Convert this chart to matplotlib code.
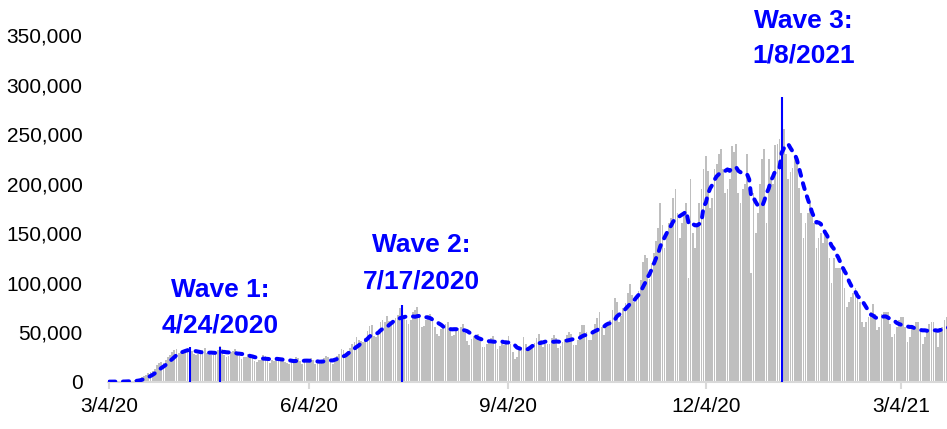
import matplotlib
matplotlib.use("Agg")
import matplotlib.pyplot as plt
import matplotlib.dates as mdates
import numpy as np
import pandas as pd

# Daily new cases (thousands), starting 3/4/2020, one row per week (Wed..Tue)
cases_k = [
    0.03, 0.05, 0.08, 0.1, 0.1, 0.2, 0.3,
    0.4, 0.5, 0.7, 0.9, 1.0, 1.4, 1.9,
    2.9, 4.5, 5.7, 7.0, 8.5, 10.0, 10.5,
    13.0, 17.0, 18.5, 19.5, 18.5, 21.5, 25.0,
    27.0, 29.5, 32.5, 33.5, 28.5, 29.5, 31.0,
    32.5, 34.5, 33.0, 30.5, 27.5, 26.5, 27.5,
    30.0, 31.5, 34.5, 28.5, 26.5, 27.0, 26.5,
    29.0, 32.0, 36.0, 33.5, 26.5, 24.5, 25.5,
    30.0, 30.5, 33.5, 28.5, 25.5, 22.5, 24.5,
    25.0, 28.0, 27.5, 25.5, 20.5, 19.5, 22.0,
    21.5, 27.0, 26.0, 24.5, 19.0, 22.0, 21.0,
    22.5, 25.0, 24.0, 23.0, 19.5, 19.0, 18.0,
    19.5, 22.5, 24.5, 24.0, 20.5, 17.5, 20.0,
    20.0, 22.0, 24.0, 21.5, 17.5, 18.5, 17.5,
    21.0, 23.5, 25.5, 25.0, 19.5, 18.0, 23.0,
    26.0, 28.0, 33.0, 32.0, 26.0, 31.0, 34.0,
    38.0, 40.0, 45.0, 42.0, 41.0, 40.0, 44.0,
    51.0, 56.0, 57.0, 46.0, 45.0, 47.0, 60.0,
    62.0, 60.0, 66.0, 61.0, 58.0, 59.0, 64.0,
    67.0, 74.0, 71.0, 64.0, 62.0, 58.0, 62.0,
    70.0, 72.0, 75.0, 66.0, 55.0, 56.0, 62.0,
    67.0, 68.0, 65.0, 55.0, 48.0, 46.0, 53.0,
    54.0, 58.0, 60.0, 53.0, 46.0, 47.0, 53.0,
    54.0, 55.0, 58.0, 49.0, 41.0, 37.0, 43.0,
    46.0, 45.0, 48.0, 43.0, 35.0, 35.0, 38.0,
    42.0, 44.0, 46.0, 42.0, 33.0, 36.0, 41.0,
    37.0, 42.0, 46.0, 38.0, 30.0, 23.0, 25.0,
    32.0, 35.0, 45.0, 38.0, 32.0, 33.0, 37.0,
    39.0, 44.0, 48.0, 42.0, 35.0, 38.0, 38.0,
    38.0, 44.0, 47.0, 44.0, 34.0, 36.0, 40.0,
    43.0, 47.0, 50.0, 48.0, 37.0, 37.0, 42.0,
    50.0, 57.0, 57.0, 50.0, 42.0, 42.0, 52.0,
    58.0, 64.0, 70.0, 55.0, 47.0, 56.0, 60.0,
    62.0, 72.0, 84.0, 80.0, 60.0, 66.0, 74.0,
    79.0, 90.0, 99.0, 88.0, 80.0, 85.0, 92.0,
    103.0, 121.0, 128.0, 125.0, 104.0, 120.0, 130.0,
    142.0, 155.0, 180.0, 158.0, 135.0, 150.0, 160.0,
    165.0, 185.0, 195.0, 170.0, 145.0, 160.0, 170.0,
    180.0, 105.0, 205.0, 150.0, 135.0, 160.0, 180.0,
    195.0, 215.0, 228.0, 213.0, 175.0, 185.0, 215.0,
    220.0, 230.0, 235.0, 215.0, 190.0, 195.0, 205.0,
    238.0, 232.0, 240.0, 190.0, 180.0, 195.0, 200.0,
    230.0, 195.0, 110.0, 190.0, 150.0, 170.0, 200.0,
    225.0, 235.0, 160.0, 225.0, 205.0, 200.0, 239.0,
    240.0, 245.0, 265.0, 255.0, 230.0, 205.0, 212.0,
    216.0, 226.0, 225.0, 196.0, 170.0, 145.0, 160.0,
    170.0, 180.0, 175.0, 160.0, 135.0, 145.0, 150.0,
    140.0, 150.0, 150.0, 125.0, 100.0, 125.0, 115.0,
    115.0, 115.0, 115.0, 95.0, 75.0, 80.0, 85.0,
    90.0, 95.0, 85.0, 80.0, 60.0, 55.0, 60.0,
    65.0, 70.0, 78.0, 68.0, 52.0, 55.0, 68.0,
    70.0, 70.0, 70.0, 58.0, 45.0, 48.0, 55.0,
    62.0, 65.0, 65.0, 55.0, 40.0, 45.0, 55.0,
    55.0, 60.0, 60.0, 50.0, 38.0, 45.0, 52.0,
    58.0, 60.0, 60.0, 50.0, 35.0, 50.0, 55.0,
    62.0, 65.0, 68.0,
]
start_date = "2020-03-04"

# Wave peak markers
wave_line_dates = ["2020-04-10", "2020-04-24", "2020-07-17", "2021-01-08"]
wave_line_tops = [35000, 35000, 77000, 287000]

wave_label_lines = [("Wave 1:", "4/24/2020"), ("Wave 2:", "7/17/2020"), ("Wave 3:", "1/8/2021")]
wave_label_dates = ["2020-04-24", "2020-07-26", "2021-01-18"]
wave_label_y1 = [85500, 130500, 357000]   # baselines of first lines
wave_label_y2 = [50000, 94000, 322000]    # baselines of second lines

tick_dates = ["2020-03-04", "2020-06-04", "2020-09-04", "2020-12-04", "2021-03-04"]
tick_labels = ["3/4/20", "6/4/20", "9/4/20", "12/4/20", "3/4/21"]
y_ticks = [0, 50000, 100000, 150000, 200000, 250000, 300000, 350000]

# ---------------------------------------------------------------
cases = np.array(cases_k) * 1000.0
dates = pd.date_range(start_date, periods=len(cases), freq="D")
avg7 = pd.Series(cases).rolling(7, min_periods=1).mean().values

plt.rcParams["font.family"] = ["Liberation Sans", "DejaVu Sans"]

fig = plt.figure(figsize=(9.47, 4.29), dpi=100)
ax = fig.add_axes([108.2 / 947, 47.3 / 429, 838.8 / 947, 381.7 / 429])

xd = mdates.date2num(dates)
ax.bar(xd, cases, width=0.8, color="#BFBFBF", linewidth=0, zorder=1)
ax.plot(xd, avg7, color="#0000FF", lw=2.9, linestyle=(0, (1.5, 1.9)),
        dash_capstyle="round", zorder=3)

ax.vlines(mdates.date2num(pd.to_datetime(wave_line_dates)), 0, wave_line_tops,
          color="#0000FF", lw=1.5, zorder=4)

for (l1, l2), dstr, y1, y2 in zip(wave_label_lines, wave_label_dates, wave_label_y1, wave_label_y2):
    xx = mdates.date2num(pd.Timestamp(dstr))
    ax.text(xx, y1, l1, ha="center", va="baseline", fontsize=19,
            fontweight="bold", color="#0000FF", zorder=5)
    ax.text(xx, y2, l2, ha="center", va="baseline", fontsize=19,
            fontweight="bold", color="#0000FF", zorder=5)

x0 = mdates.date2num(pd.Timestamp(start_date))
ax.set_xlim(x0 - 0.5, x0 + 386.2)
ax.set_ylim(0, 385300)

ax.set_xticks(mdates.date2num(pd.to_datetime(tick_dates)))
ax.set_xticklabels(tick_labels)
ax.set_yticks(y_ticks)
ax.set_yticklabels([f"{v:,}" for v in y_ticks])

for s in ["top", "right", "left"]:
    ax.spines[s].set_visible(False)
ax.spines["bottom"].set_color("#D9D9D9")
ax.spines["bottom"].set_linewidth(1.5)
ax.tick_params(axis="x", direction="out", length=5, width=1.5, color="#D9D9D9",
               labelsize=15, pad=6, labelcolor="black")
ax.tick_params(axis="y", length=0, labelsize=15, pad=18.5, labelcolor="black")
ax.set_facecolor("white")
fig.patch.set_facecolor("white")

fig.savefig("out.png", dpi=100)
